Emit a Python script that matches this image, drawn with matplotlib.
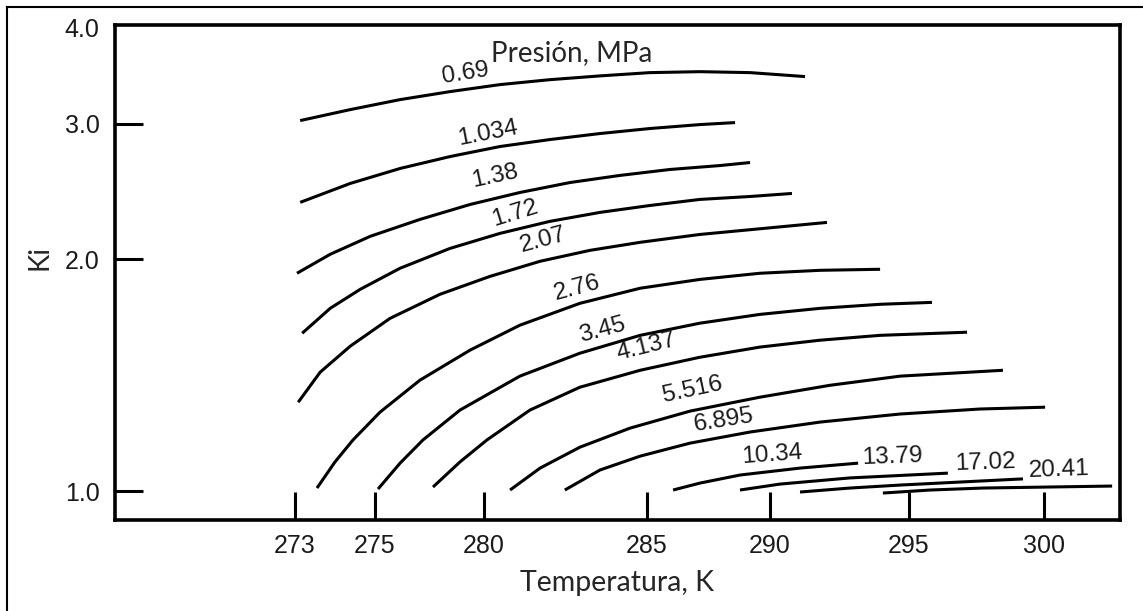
"""Ki vs temperature chart with one curve per pressure (MPa)."""
import matplotlib

matplotlib.use("Agg")
import matplotlib.pyplot as plt
import numpy as np
from matplotlib.lines import Line2D
from matplotlib.ticker import FixedLocator, NullLocator

# --- data (T in K, Ki) ---
T_069 = [273.13, 274.38, 276.15, 278.44, 280.49, 282.02, 283.56, 285.12, 287.15, 289.19, 291.26]
K_069 = [3.028, 3.129, 3.224, 3.302, 3.372, 3.422, 3.461, 3.495, 3.505, 3.495, 3.454]
T_1034 = [273.13, 274.38, 276.15, 278.44, 280.49, 282.02, 283.56, 285.12, 287.15, 288.58]
K_1034 = [2.371, 2.509, 2.624, 2.719, 2.802, 2.861, 2.913, 2.957, 2.992, 3.010]
T_138 = [273.05, 273.88, 274.88, 277.06, 279.36, 281.10, 282.64, 284.17, 285.93, 287.97, 289.19]
K_138 = [1.918, 2.030, 2.142, 2.253, 2.356, 2.442, 2.516, 2.570, 2.616, 2.647, 2.671]
T_172 = [273.18, 273.88, 274.63, 276.15, 278.44, 280.49, 282.02, 283.56, 285.12, 287.15, 289.19, 290.79]
K_172 = [1.603, 1.727, 1.828, 1.947, 2.066, 2.161, 2.240, 2.301, 2.349, 2.392, 2.413, 2.435]
T_207 = [273.08, 273.63, 274.38, 275.69, 277.98, 280.18, 281.72, 283.25, 284.79, 287.15, 289.59, 292.05]
K_207 = [1.304, 1.427, 1.542, 1.676, 1.801, 1.900, 1.988, 2.054, 2.104, 2.154, 2.191, 2.233]
T_276 = [273.55, 274.00, 274.45, 275.23, 277.06, 279.36, 281.10, 282.94, 284.79, 287.15,
         289.59, 291.80, 293.96]
K_276 = [1.009, 1.091, 1.165, 1.266, 1.393, 1.524, 1.642, 1.753, 1.834, 1.883,
         1.918, 1.935, 1.941]
T_345 = [275.14, 276.15, 277.20, 278.90, 281.10, 282.94, 284.79, 287.15, 289.59, 291.80,
         293.96, 295.85]
K_345 = [1.006, 1.087, 1.165, 1.274, 1.410, 1.510, 1.593, 1.652, 1.696, 1.727,
         1.748, 1.758]
T_4137 = [277.66, 278.90, 280.09, 281.41, 282.94, 284.79, 287.15, 289.59, 291.80, 293.96, 297.15]
K_4137 = [1.012, 1.091, 1.165, 1.274, 1.364, 1.435, 1.492, 1.538, 1.570, 1.593, 1.608]
T_5516 = [280.80, 281.72, 282.94, 284.48, 286.75, 289.59, 292.16, 294.68, 298.48]
K_5516 = [1.003, 1.071, 1.140, 1.207, 1.270, 1.324, 1.372, 1.410, 1.435]
T_6895 = [282.48, 283.56, 284.79, 286.75, 289.19, 291.80, 294.68, 297.63, 300.04]
K_6895 = [1.003, 1.065, 1.110, 1.154, 1.193, 1.229, 1.259, 1.278, 1.285]
T_1034b = [286.06, 287.15, 288.78, 291.08, 293.17]
K_1034b = [1.003, 1.024, 1.049, 1.071, 1.087]
T_1379 = [288.78, 290.36, 292.88, 296.44]
K_1379 = [1.003, 1.021, 1.040, 1.055]
T_1702 = [291.08, 292.88, 294.68, 299.22]
K_1702 = [0.997, 1.009, 1.018, 1.037]
T_2041 = [294.06, 295.78, 297.74, 302.51]
K_2041 = [0.994, 1.003, 1.009, 1.015]

CURVES = [
    (T_069, K_069), (T_1034, K_1034), (T_138, K_138), (T_172, K_172),
    (T_207, K_207), (T_276, K_276), (T_345, K_345), (T_4137, K_4137),
    (T_5516, K_5516), (T_6895, K_6895), (T_1034b, K_1034b),
    (T_1379, K_1379), (T_1702, K_1702), (T_2041, K_2041),
]

# pressure labels: text, T, Ki, rotation
LABEL_TXT = ["0.69", "1.034", "1.38", "1.72", "2.07", "2.76", "3.45", "4.137",
             "5.516", "6.895", "10.34", "13.79", "17.02", "20.41"]
LABEL_T = [279.17, 280.12, 280.34, 280.95, 281.81, 282.85, 283.62, 284.97,
           286.83, 288.13, 290.07, 294.39, 297.81, 300.55]
LABEL_K = [3.484, 2.913, 2.562, 2.294, 2.116, 1.834, 1.618, 1.537,
           1.352, 1.236, 1.113, 1.107, 1.087, 1.065]
LABEL_ROT = [9, 11, 12, 17, 15, 15, 15, 14, 12, 9, 4, 2, 2, 2]

X_TICKS = [273, 275, 280, 285, 290, 295, 300]
Y_TICKS = [1.0, 2.0, 3.0, 4.0]

# the printed temperature axis is not evenly spaced: calibration K -> position
AXIS_K = [268.5, 273, 275, 280, 285, 290, 295, 300, 302.8]
AXIS_POS = [115, 295, 375, 484, 647, 770, 909, 1044, 1120]


def fwd(t):
    return np.interp(t, AXIS_K, AXIS_POS)


def inv(p):
    return np.interp(p, AXIS_POS, AXIS_K)


W, H = 1143, 611
fig = plt.figure(figsize=(W / 100, H / 100), dpi=100)
ax = fig.add_axes([115 / W, 1 - 520 / H, (1120 - 115) / W, (520 - 25) / H])

for t, k in CURVES:
    ax.plot(t, k, color="black", lw=2.2, solid_capstyle="butt",
            solid_joinstyle="round")

num_font = dict(family="Liberation Sans", size=17.5, color="#1a1a1a")
for txt, t, k, r in zip(LABEL_TXT, LABEL_T, LABEL_K, LABEL_ROT):
    ax.text(t, k, txt, ha="center", va="center", rotation=r,
            rotation_mode="anchor", **num_font)

cal_font = dict(family="Lato", color="#262626")
ax.text(282.70, 3.71, "Presión, MPa", ha="center", va="center", size=20, **cal_font)

ax.set_xscale("function", functions=(fwd, inv))
ax.set_yscale("log")
ax.set_xlim(268.5, 302.8)
ax.set_ylim(0.917, 4.03)

ax.xaxis.set_major_locator(FixedLocator(X_TICKS))
ax.set_xticklabels([str(v) for v in X_TICKS])
ax.yaxis.set_major_locator(FixedLocator(Y_TICKS))
ax.yaxis.set_minor_locator(NullLocator())
ax.xaxis.set_minor_locator(NullLocator())
ax.set_yticklabels([f"{v:.1f}" for v in Y_TICKS])

ax.tick_params(direction="in", length=20, width=2.2, color="black")
ax.tick_params(axis="y", pad=11)
ax.tick_params(axis="x", pad=10)
ax.yaxis.get_major_ticks()[-1].tick1line.set_visible(False)
for lab in ax.get_xticklabels() + ax.get_yticklabels():
    lab.set_fontfamily("Liberation Sans")
    lab.set_fontsize(18)
    lab.set_color("#1a1a1a")
for s in ax.spines.values():
    s.set_linewidth(2.6)

ax.set_xlabel("Temperatura, K", fontsize=20.5, labelpad=9, **cal_font)
ax.set_ylabel("Ki", fontsize=20, **cal_font)
ax.yaxis.set_label_coords(-0.062, 0.53)

# outer frame of the picture (left and top edges visible)
fig.add_artist(Line2D([7 / W, 7 / W], [0, 1 - 7 / H], color="black", lw=1.5,
                      transform=fig.transFigure))
fig.add_artist(Line2D([7 / W, 1], [1 - 7 / H, 1 - 7 / H], color="black", lw=1.5,
                      transform=fig.transFigure))

fig.savefig("out.png", dpi=100)
